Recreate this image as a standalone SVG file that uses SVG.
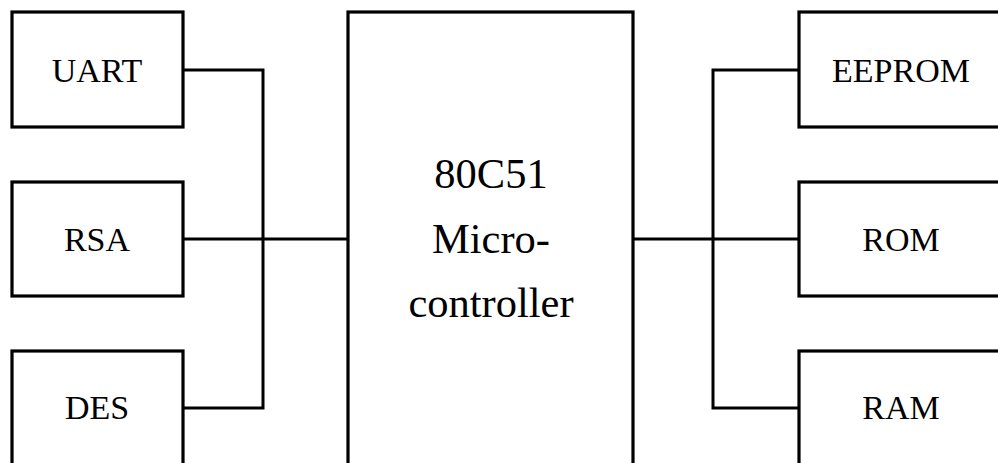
<svg xmlns="http://www.w3.org/2000/svg" width="998" height="463" viewBox="0 0 998 463">
<style>
.box{fill:#fff;stroke:#000;stroke-width:3.2}
.lbl{font-family:"Liberation Serif","Times New Roman",serif;font-size:34px;fill:#000;text-anchor:middle}
.big{font-family:"Liberation Serif","Times New Roman",serif;font-size:42.5px;fill:#000;text-anchor:middle}
.wire{fill:none;stroke:#000;stroke-width:3}
</style>
<rect width="998" height="463" fill="#fff"/>
<g id="connectors">
<polyline class="wire" points="180,70 263,70 263,408 180,408"/>
<line class="wire" x1="180" y1="239" x2="348" y2="239"/>
<line class="wire" x1="629" y1="239" x2="799" y2="239"/>
<polyline class="wire" points="799,70 713,70 713,408 799,408"/>
</g>
<g id="uart"><rect class="box" x="12" y="12" width="171" height="115"/><text class="lbl" x="97" y="82">UART</text></g>
<g id="rsa"><rect class="box" x="12" y="182" width="171" height="114"/><text class="lbl" x="97" y="251">RSA</text></g>
<g id="des"><rect class="box" x="12" y="351" width="171" height="140"/><text class="lbl" x="97" y="419">DES</text></g>
<g id="mcu"><rect class="box" x="348" y="12" width="285" height="480"/>
<text class="big" x="491" y="188">80C51</text>
<text class="big" x="491" y="253">Micro-</text>
<text class="big" x="491" y="317">controller</text></g>
<g id="eeprom"><rect class="box" x="799" y="12" width="220" height="115"/><text class="lbl" x="901" y="82">EEPROM</text></g>
<g id="rom"><rect class="box" x="799" y="182" width="220" height="114"/><text class="lbl" x="901" y="251">ROM</text></g>
<g id="ram"><rect class="box" x="799" y="351" width="220" height="140"/><text class="lbl" x="901" y="419">RAM</text></g>
</svg>
